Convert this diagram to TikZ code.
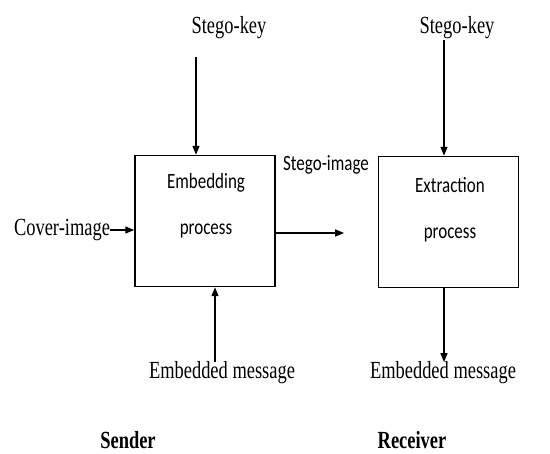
\documentclass[tikz,border=0pt]{standalone}
\usepackage{fontspec}
\setmainfont{Liberation Serif}[FakeStretch=0.75]
\newfontfamily\procfont{Carlito}[FakeStretch=0.78]
\usetikzlibrary{arrows.meta}

\tikzset{
  lbl/.style={font=\fontsize{14}{16}\selectfont, inner sep=0pt},
  proc/.style={font=\procfont\fontsize{12.4}{26}\selectfont, inner sep=0pt, align=center},
  box/.style={draw, line width=1pt, minimum width=2.8cm, minimum height=2.62cm, inner sep=0pt},
  arr/.style={-{Triangle[length=5pt,width=4pt]}, line width=0.6pt}
}

\begin{document}
\begin{tikzpicture}[x=0.02cm, y=-0.02cm]
  \useasboundingbox (0,0) rectangle (550,453);

  \node[box] (emb) at (205,221) {};
  \node[box] (ext) at (448.5,222) {};
  \node[proc] (embtxt) at (206,206) {Embedding\\process};
  \node[proc] (exttxt) at (450,210) {Extraction\\process};

  \node[lbl] (keyL) at (229,28) {Stego-key};
  \node[lbl] (keyR) at (457,28) {Stego-key};
  \node[lbl] (cover) at (62,230) {Cover-image};
  \node[proc] (stego) at (326,165) {Stego-image};
  \node[lbl] (msgL) at (222,373) {Embedded message};
  \node[lbl] (msgR) at (443,373) {Embedded message};
  \node[lbl, font=\fontsize{14}{16}\selectfont\bfseries] (sender) at (128,440) {Sender};
  \node[lbl, font=\fontsize{14}{16}\selectfont\bfseries] (receiver) at (412,440) {Receiver};

  \coordinate (keyLend) at (196,57);
  \coordinate (keyRend) at (444,40);
  \coordinate (stegoend) at (344,233);
  \coordinate (msgLend) at (215,362);
  \coordinate (msgRend) at (444,362);

  \draw[arr] (keyLend) -- (keyLend |- emb.north);
  \draw[arr] (keyRend) -- (keyRend |- ext.north);
  \draw[arr] (cover.east) -- (cover.east -| emb.west);
  \draw[arr] (stegoend -| emb.east) -- (stegoend);
  \draw[arr] (msgLend) -- (msgLend |- emb.south);
  \draw[arr] (msgRend |- ext.south) -- (msgRend);
\end{tikzpicture}
\end{document}
